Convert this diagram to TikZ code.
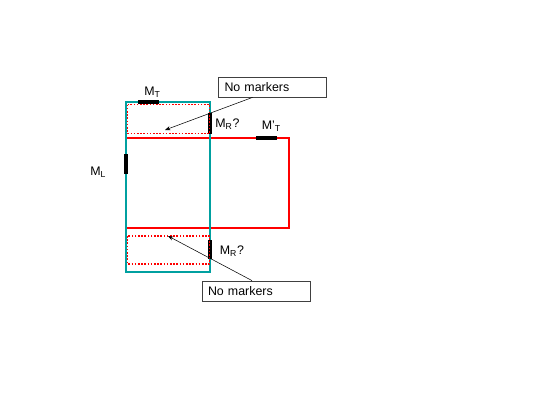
\documentclass[tikz,border=0pt]{standalone}
\usepackage{fontspec}
\setmainfont{Liberation Sans}
\usetikzlibrary{arrows.meta}
\usetikzlibrary{calc}
\definecolor{frameteal}{RGB}{0,160,160}
\definecolor{loopred}{RGB}{255,0,0}

\tikzset{
  frame/.style={draw=frameteal, line width=1.5pt},
  loop/.style={draw=loopred, line width=1.5pt},
  dotloop/.style={draw=loopred, line width=1.4pt, dash pattern={on 1.2pt off 1.2pt}},
  marker/.style={draw=black, line width=3pt},
  lbl/.style={anchor=west, inner sep=0.75pt, font=\fontsize{9.3}{11}\selectfont},
  notebox/.style={draw={rgb,255:red,64;green,64;blue,64}, line width=0.6pt, minimum height=15pt,
    text width=72pt, align=left, inner xsep=4.5pt, font=\fontsize{9.3}{11}\selectfont},
  pointer/.style={draw=black, line width=0.4pt, -{Stealth[length=4pt,width=3pt]}}
}

\begin{document}
\begin{tikzpicture}[x=0.75pt,y=0.75pt,yscale=-1,xscale=1]
\useasboundingbox (0,0) rectangle (554,415);

%Red loop
\draw [loop] (126,138) -- (289,138) -- (289,228) -- (126,228) ;
%Teal frame
\draw [frame] (126,102) rectangle (210,272) ;

%Markers
\draw [marker] (138,102) -- (159,102) ;
\draw [marker] (256,138) -- (277,138) ;
\draw [marker] (126,154) -- (126,174) ;
\draw [marker] (210,113) -- (210,134) ;
\draw [marker] (210,240) -- (210,259) ;

%Dotted regions
\draw [dotloop] (127.5,104.5) rectangle (209.5,133.5) ;
\draw [dotloop] (127.5,236) rectangle (209.5,264) ;

%Labels
\node [lbl] (mt) at (143,92) {M\textsubscript{T}};
\node [lbl] (mrtop) at (214,124) {M\textsubscript{R}?};
\node [lbl] (mtp) at (260.5,126) {M’\textsubscript{T}};
\node [lbl] (ml) at (89,172) {M\textsubscript{L}};
\node [lbl] (mrbot) at (218.5,251.5) {M\textsubscript{R}?};

%Note boxes
\node [notebox] (notetop) at (272.5,87) {No markers};
\node [notebox] (notebot) at (256,291) {No markers};
\coordinate (tgttop) at (165,130);
\coordinate (tgtbot) at (168,236);
\draw [pointer] ($(notetop.south)+(-20,0)$) -- (tgttop) ;
\draw [pointer] ($(notebot.north)+(-4,0)$) -- (tgtbot) ;

\end{tikzpicture}
\end{document}
